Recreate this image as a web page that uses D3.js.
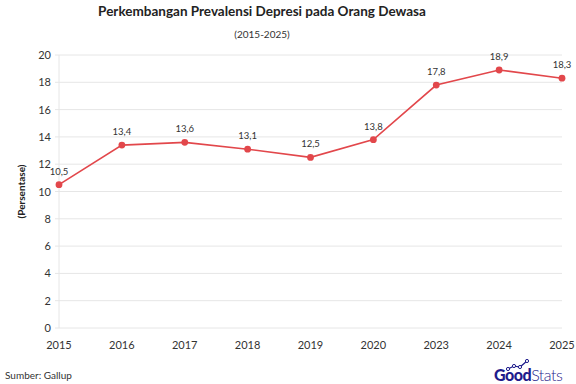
<html lang="en">
<head>
<script src="https://cdn.jsdelivr.net/npm/d3@7/dist/d3.min.js"></script>
<style>
body{margin:0;background:#fff;}
text{font-family:Lato,"Open Sans",sans-serif;}
</style>
</head>
<body>
<div id="chart"></div>
<script>
// data
const years=["2015","2016","2017","2018","2019","2020","2023","2024","2025"]
const values=[10.5,13.4,13.6,13.1,12.5,13.8,17.8,18.9,18.3]
const yTicks=[0,2,4,6,8,10,12,14,16,18,20]

const W=576,H=384
const m={top:55,right:14,bottom:56,left:59}
const red="#e2474b"

svg=d3.select("#chart").append("svg").attr("width",W).attr("height",H)

x=d3.scalePoint().domain(years).range([m.left,W-m.right])
y=d3.scaleLinear().domain([0,20]).range([H-m.bottom,m.top])

// grid
g=svg.append("g")
g.selectAll("line.grid").data(yTicks).enter().append("line")
 .attr("x1",m.left-4).attr("x2",W-m.right).attr("y1",d=>y(d)).attr("y2",d=>y(d))
 .style("stroke","#e6e6e6").style("stroke-width",1)
g.append("line").attr("x1",m.left).attr("x2",m.left).attr("y1",m.top).attr("y2",H-m.bottom).style("stroke","#e6e6e6")

g.selectAll("text.yt").data(yTicks).enter().append("text")
 .attr("x",m.left-8).attr("y",d=>y(d)+4).attr("text-anchor","end")
 .style("font-size","11px").style("fill","#333").text(d=>d)

g.selectAll("text.xt").data(years).enter().append("text")
 .attr("x",d=>x(d)).attr("y",H-m.bottom+21).attr("text-anchor","middle")
 .style("font-size","11px").style("fill","#333").text(d=>d)

// line
line=d3.line().x((d,i)=>x(years[i])).y(d=>y(d))
svg.append("path").datum(values).attr("d",line).style("fill","none").style("stroke",red).style("stroke-width",1.6)
svg.selectAll("circle.pt").data(values).enter().append("circle")
 .attr("cx",(d,i)=>x(years[i])).attr("cy",d=>y(d)).attr("r",3.4).style("fill",red)
svg.selectAll("text.lbl").data(values).enter().append("text")
 .attr("x",(d,i)=>x(years[i])).attr("y",d=>y(d)-10).attr("text-anchor","middle")
 .style("font-size","9.5px").style("fill","#333").text(d=>String(d).replace(".",","))

// titles
svg.append("text").attr("x",262).attr("y",16).attr("text-anchor","middle")
 .style("font-size","13.5px").style("font-weight","bold").style("fill","#222").text("Perkembangan Prevalensi Depresi pada Orang Dewasa")
svg.append("text").attr("x",262).attr("y",38).attr("text-anchor","middle")
 .style("font-size","10px").style("fill","#333").text("(2015-2025)")
svg.append("text").attr("transform","translate(25,"+(y(10))+") rotate(-90)").attr("text-anchor","middle")
 .style("font-size","10px").style("font-weight","bold").style("fill","#222").text("(Persentase)")
svg.append("text").attr("x",5).attr("y",379).style("font-size","10px").style("fill","#333").text("Sumber: Gallup")

// logo
lg=svg.append("g").attr("transform","translate(494,381)")
lg.append("text").attr("x",0).attr("y",0).style("font-size","16px").style("fill","#1f1c8c")
 .style("letter-spacing","-0.5px")
 .html('<tspan style="font-weight:900">Good</tspan><tspan style="font-weight:300">Stats</tspan>')
icon=[[14,-12],[20,-15],[26,-14],[33,-20]]
lg.append("path").attr("d",d3.line()(icon)).style("fill","none").style("stroke","#1f1c8c").style("stroke-width",1.2)
lg.selectAll("circle").data(icon).enter().append("circle").attr("cx",d=>d[0]).attr("cy",d=>d[1]).attr("r",1.6)
 .style("fill","#fff").style("stroke","#1f1c8c").style("stroke-width",1)
</script>
</body>
</html>
